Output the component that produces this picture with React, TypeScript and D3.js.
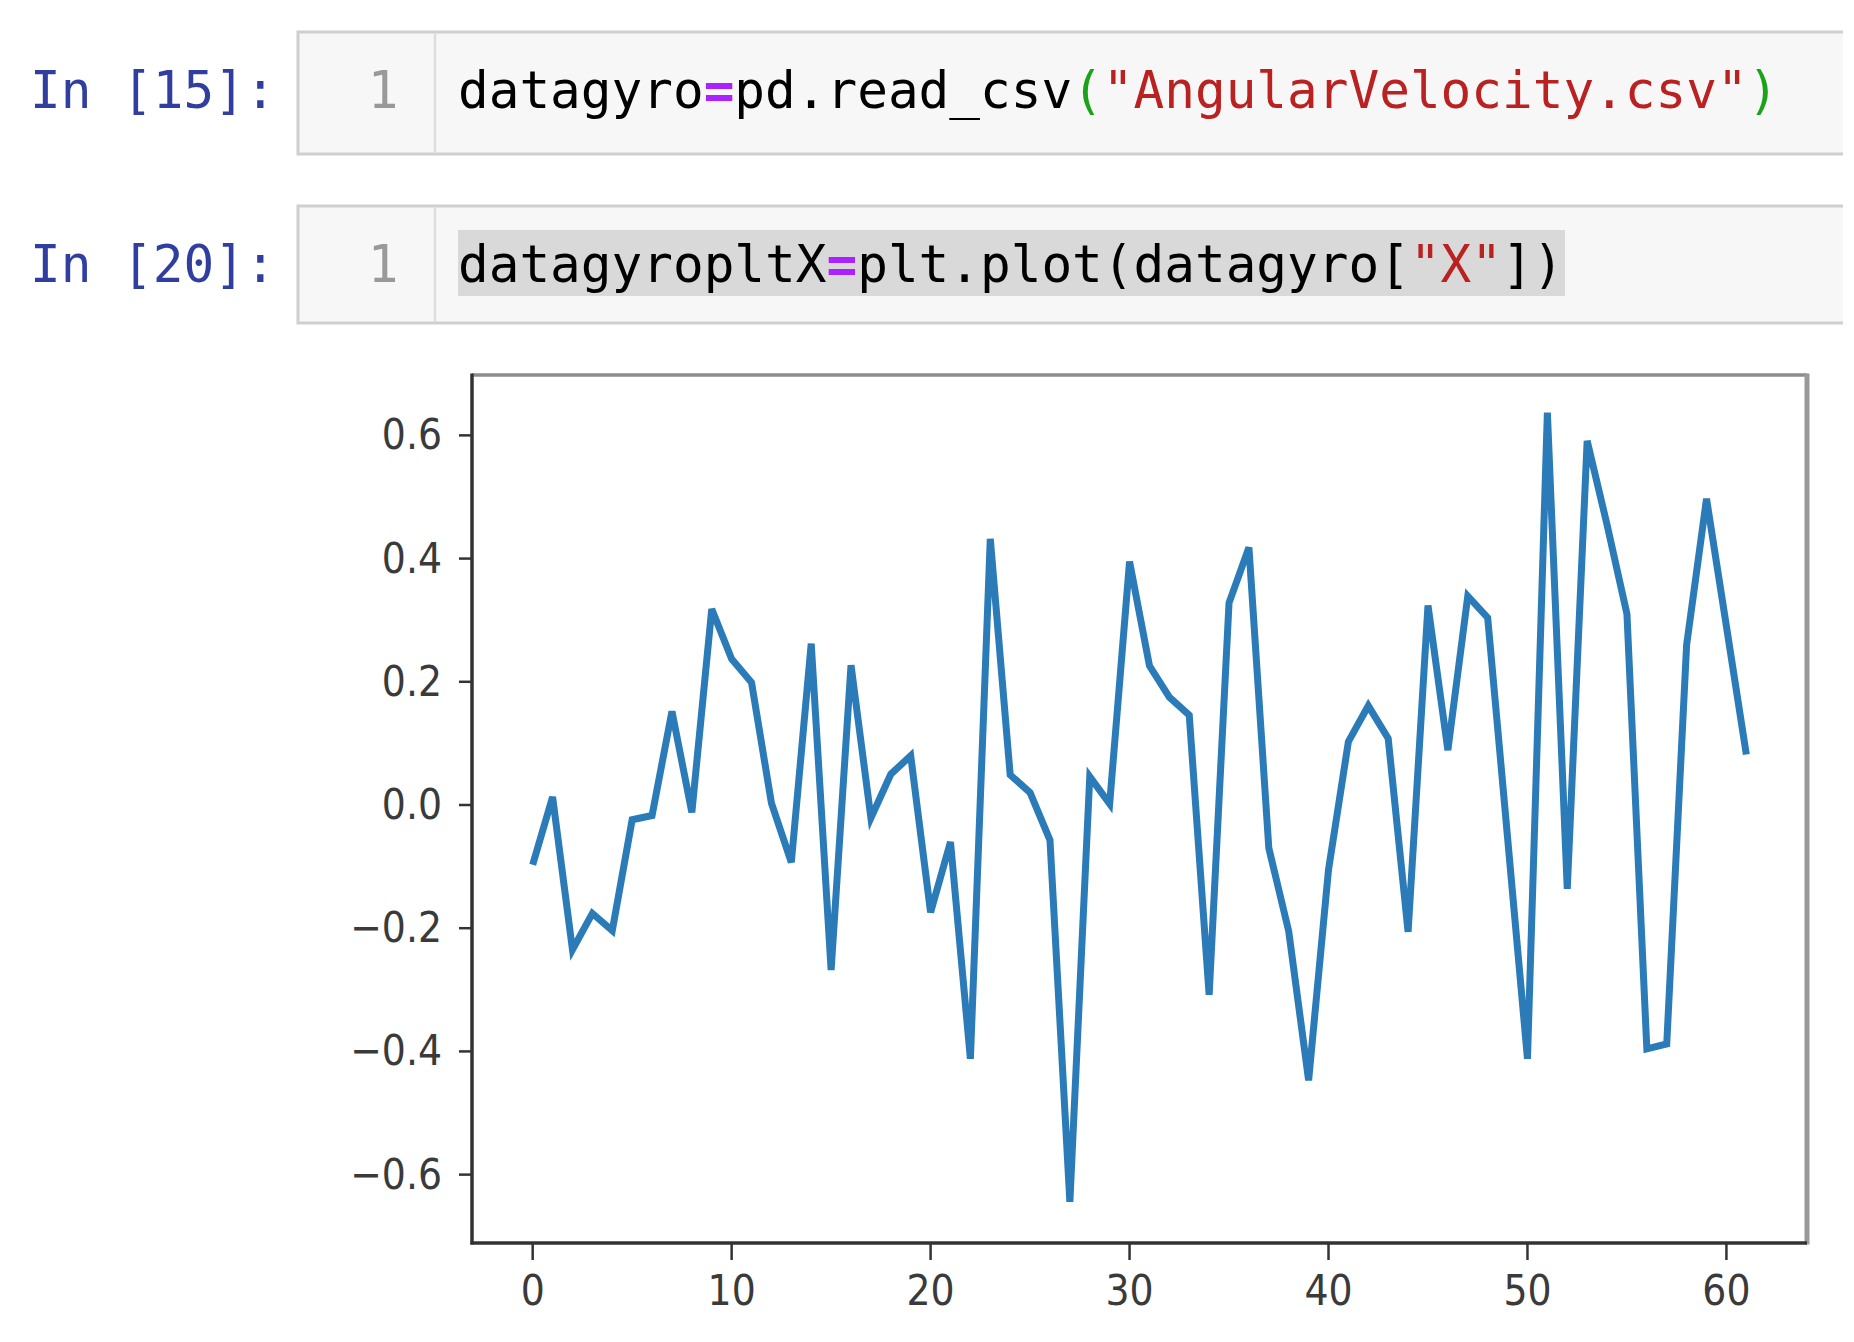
import { useEffect, useRef } from 'react';
import * as d3 from 'd3';

// datagyro["X"], index 0..61
const gyroX: number[] = [
  -0.097, 0.013, -0.235, -0.176, -0.204, -0.024, -0.017, 0.152, -0.012, 0.318,
  0.237, 0.199, 0.003, -0.093, 0.262, -0.268, 0.227, -0.021, 0.05, 0.08,
  -0.174, -0.06, -0.412, 0.432, 0.049, 0.02, -0.057, -0.644, 0.046, 0.002,
  0.395, 0.226, 0.175, 0.146, -0.308, 0.328, 0.418, -0.07, -0.205, -0.447,
  -0.105, 0.103, 0.161, 0.108, -0.206, 0.324, 0.089, 0.339, 0.304, -0.053,
  -0.412, 0.637, -0.136, 0.591, 0.455, 0.31, -0.396, -0.388, 0.26, 0.497,
  0.29, 0.082,
];

const xTicks: number[] = [0, 10, 20, 30, 40, 50, 60];
const yTicks: number[] = [-0.6, -0.4, -0.2, 0.0, 0.2, 0.4, 0.6];

// notebook cells: [prompt, tokens]
const cell1Prompt = 'In [15]:';
const cell2Prompt = 'In [20]:';
const cell1Tokens: [string, string][] = [
  ['datagyro', 'plain'], ['=', 'op'], ['pd.read_csv', 'plain'], ['(', 'match'],
  ['"AngularVelocity.csv"', 'str'], [')', 'match'],
];
const cell2Tokens: [string, string][] = [
  ['datagyropltX', 'plain'], ['=', 'op'], ['plt.plot(datagyro[', 'plain'],
  ['"X"', 'str'], ['])', 'plain'],
];

const tokenColor: Record<string, string> = {
  plain: '#000', op: '#AA22FF', str: '#BA2121', match: '#1aa31a',
};

const App = () => {
  const ref = useRef<SVGSVGElement | null>(null);

  useEffect(() => {
    if (!ref.current) return;
    const svg = d3.select(ref.current);
    svg.selectAll('*').remove();

    const W = 1854, H = 1342;
    svg.append('rect').attr('width', W).attr('height', H).attr('fill', '#fff');

    // --- celdas del notebook ---
    const mono = '"DejaVu Sans Mono", "Liberation Mono", monospace';
    const boxL = 298, boxR = 1843;
    const cells = [
      { prompt: cell1Prompt, tokens: cell1Tokens, top: 32, bottom: 154, base: 108, hl: false },
      { prompt: cell2Prompt, tokens: cell2Tokens, top: 206, bottom: 323, base: 282, hl: true },
    ];
    cells.forEach(c => {
      svg.append('text')
        .attr('x', 30).attr('y', c.base)
        .attr('font-family', mono).attr('font-size', 51)
        .attr('fill', '#303F9F').text(c.prompt);

      // caja: fondo + bordes (sin borde derecho, queda cortado)
      svg.append('rect')
        .attr('x', boxL).attr('y', c.top)
        .attr('width', boxR - boxL).attr('height', c.bottom - c.top)
        .attr('fill', '#f7f7f7');
      svg.append('path')
        .attr('d', `M${boxR},${c.top}H${boxL}V${c.bottom}H${boxR}`)
        .attr('fill', 'none').attr('stroke', '#cfcfcf').attr('stroke-width', 3);

      svg.append('line')
        .attr('x1', 435).attr('x2', 435)
        .attr('y1', c.top + 1.5).attr('y2', c.bottom - 1.5)
        .attr('stroke', '#dddddd').attr('stroke-width', 2.5);

      svg.append('text')
        .attr('x', 383).attr('y', c.base).attr('text-anchor', 'middle')
        .attr('font-family', mono).attr('font-size', 51)
        .attr('fill', '#999').text('1');

      const nChars = c.tokens.reduce((s, t) => s + t[0].length, 0);
      if (c.hl) {
        svg.append('rect')
          .attr('x', 458).attr('y', c.base - 52)
          .attr('width', nChars * 30.75).attr('height', 66)
          .attr('fill', '#d9d9d9');
      }

      const t = svg.append('text')
        .attr('x', 458).attr('y', c.base)
        .attr('font-family', mono).attr('font-size', 51)
        .attr('xml:space', 'preserve');
      c.tokens.forEach(([s, kind]) => {
        t.append('tspan')
          .attr('fill', tokenColor[kind])
          .attr('font-weight', kind === 'op' ? 'bold' : 'normal')
          .text(s);
      });
    });

    // --- grafico ---
    const left = 472, right = 1807, top = 375, bottom = 1243;
    const x = d3.scaleLinear().domain([-3.05, 64.05]).range([left, right]);
    const y = d3.scaleLinear().domain([-0.711, 0.698]).range([bottom, top]);

    const line = d3.line<number>().x((_, i) => x(i)).y(d => y(d));
    svg.append('path')
      .datum(gyroX)
      .attr('fill', 'none')
      .attr('stroke', '#2a7bb8')
      .attr('stroke-width', 7)
      .attr('stroke-linejoin', 'miter')
      .attr('d', line);

    // spines
    svg.append('line').attr('x1', left).attr('x2', right).attr('y1', top).attr('y2', top)
      .attr('stroke', '#8c8c8c').attr('stroke-width', 3.5);
    svg.append('line').attr('x1', right).attr('x2', right).attr('y1', top - 1.5).attr('y2', bottom + 1.5)
      .attr('stroke', '#999').attr('stroke-width', 5);
    svg.append('line').attr('x1', left - 1.5).attr('x2', right).attr('y1', bottom).attr('y2', bottom)
      .attr('stroke', '#333').attr('stroke-width', 3.5);
    svg.append('line').attr('x1', left).attr('x2', left).attr('y1', top - 1.5).attr('y2', bottom + 1.5)
      .attr('stroke', '#333').attr('stroke-width', 3.5);

    const sans = '"DejaVu Sans", Verdana, sans-serif';
    const fmtY = (v: number) => d3.format('.1f')(v).replace('-', '\u2212');

    // ticks Y
    yTicks.forEach(v => {
      svg.append('line')
        .attr('x1', left - 13).attr('x2', left).attr('y1', y(v)).attr('y2', y(v))
        .attr('stroke', '#333').attr('stroke-width', 2.5);
      svg.append('text')
        .attr('transform', `translate(442,${y(v) + 14}) scale(0.88,1)`)
        .attr('text-anchor', 'end')
        .attr('font-family', sans).attr('font-size', 43)
        .attr('fill', '#3a3a3a')
        .text(fmtY(v));
    });

    // ticks X
    xTicks.forEach(v => {
      svg.append('line')
        .attr('x1', x(v)).attr('x2', x(v)).attr('y1', bottom).attr('y2', bottom + 17)
        .attr('stroke', '#333').attr('stroke-width', 2.5);
      svg.append('text')
        .attr('transform', `translate(${x(v)},1305) scale(0.88,1)`)
        .attr('text-anchor', 'middle')
        .attr('font-family', sans).attr('font-size', 43)
        .attr('fill', '#3a3a3a')
        .text(String(v));
    });
  }, []);

  return (
    <svg
      ref={ref}
      width={1854}
      height={1342}
      style={{ position: 'absolute', left: 0, top: 0, display: 'block' }}
    />
  );
};

export default App;
